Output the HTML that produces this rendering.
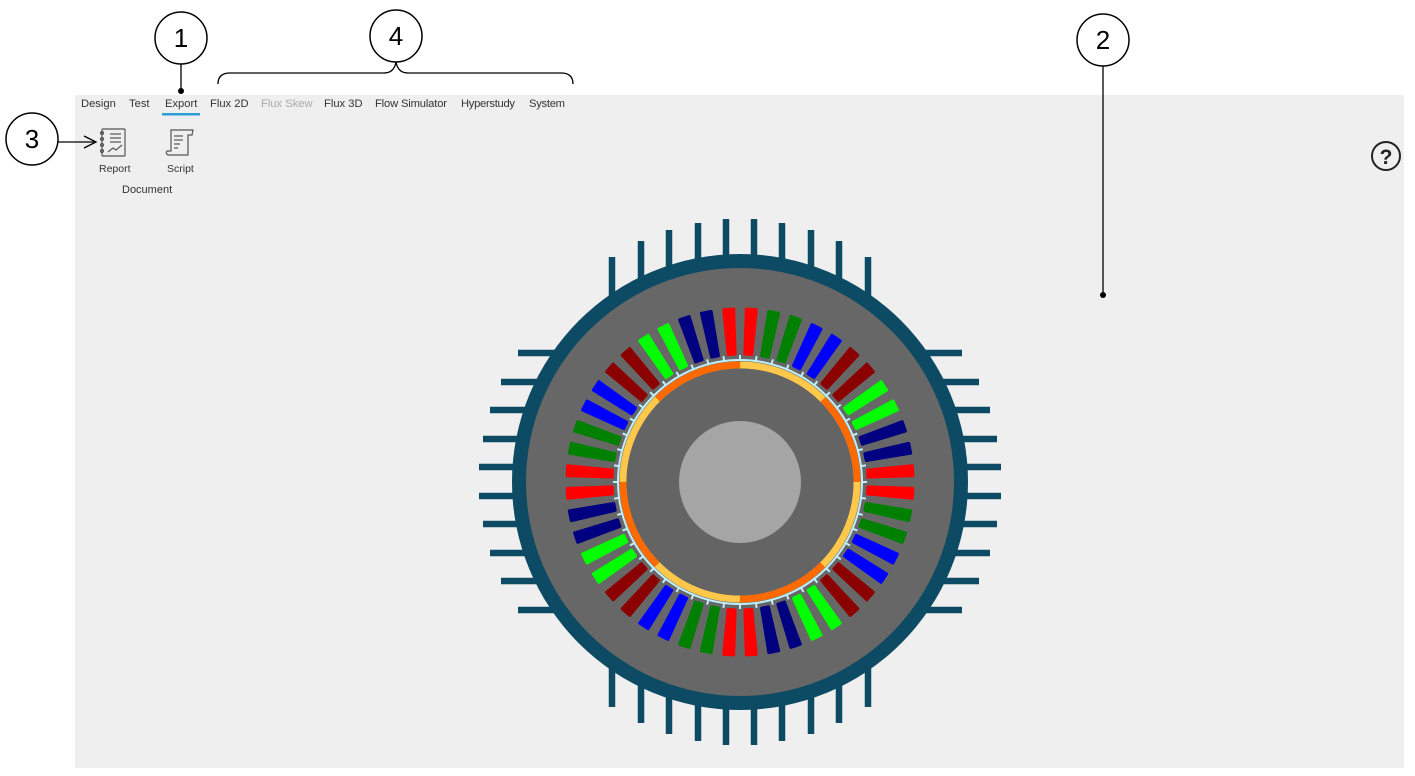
<!DOCTYPE html>
<html><head><meta charset="utf-8"><style>
html,body{margin:0;padding:0;background:#fff;width:1415px;height:776px;overflow:hidden}
svg{display:block;font-family:"Liberation Sans",sans-serif}
</style></head><body>
<svg width="1415" height="776" viewBox="0 0 1415 776" xmlns="http://www.w3.org/2000/svg">
<defs>
<path id="s" d="M735,309 L745,309 L743.5,354 L736.5,354 Z" stroke-width="3" stroke-linejoin="round"/>
<rect id="t" x="739" y="355" width="2" height="6" fill="#bfefff"/>
</defs>
<rect x="75" y="95" width="1329" height="673" fill="#efefef"/>
<g font-size="11.2" fill="#333">
<text x="81" y="107">Design</text>
<text x="129" y="107">Test</text>
<text x="165" y="107">Export</text>
<text x="210" y="107">Flux 2D</text>
<text x="261" y="107" fill="#aaa">Flux Skew</text>
<text x="324" y="107">Flux 3D</text>
<text x="375" y="107" textLength="72">Flow Simulator</text>
<text x="461" y="107" textLength="54">Hyperstudy</text>
<text x="529" y="107" textLength="36">System</text>
</g>
<rect x="162" y="113" width="38" height="2.5" fill="#2a9fd6"/>
<g fill="none" stroke="#555" stroke-width="1.2">
<rect x="102" y="129" width="23" height="27" rx="1"/>
<line x1="110" y1="134" x2="121" y2="134"/><line x1="110" y1="138" x2="121" y2="138"/><line x1="110" y1="142" x2="121" y2="142"/>
<polyline points="108,152 113,148 116,150 122,145"/>
<circle cx="102" cy="133" r="1.5"/><circle cx="102" cy="139" r="1.5"/><circle cx="102" cy="145" r="1.5"/><circle cx="102" cy="151" r="1.5"/>
<path d="M171,130 L193,130 L192,135 L188,135 L188,155 L168,155 Q165,153 167,151 L171,151 Z"/>
<line x1="174" y1="136" x2="183" y2="136"/><line x1="174" y1="140" x2="183" y2="140"/><line x1="174" y1="144" x2="180" y2="144"/><line x1="174" y1="148" x2="178" y2="148"/>
</g>
<g font-size="10.5" fill="#333">
<text x="99" y="172">Report</text>
<text x="167" y="172">Script</text>
<text x="122" y="193" font-size="11">Document</text>
</g>
<circle cx="1386" cy="156" r="14" fill="none" stroke="#222" stroke-width="2"/>
<text x="1386" y="164" text-anchor="middle" font-size="21" font-weight="bold" fill="#222">?</text>
<g stroke="#0d4a63" stroke-width="6.5">
<line x1="612" y1="482" x2="612" y2="257"/><line x1="641" y1="482" x2="641" y2="241"/><line x1="669" y1="482" x2="669" y2="230"/><line x1="698" y1="482" x2="698" y2="223"/><line x1="726" y1="482" x2="726" y2="219"/>
<line x1="754" y1="482" x2="754" y2="219"/><line x1="782" y1="482" x2="782" y2="223"/><line x1="811" y1="482" x2="811" y2="230"/><line x1="839" y1="482" x2="839" y2="241"/><line x1="868" y1="482" x2="868" y2="257"/>
<line x1="612" y1="482" x2="612" y2="707"/><line x1="641" y1="482" x2="641" y2="723"/><line x1="669" y1="482" x2="669" y2="734"/><line x1="698" y1="482" x2="698" y2="741"/><line x1="726" y1="482" x2="726" y2="745"/>
<line x1="754" y1="482" x2="754" y2="745"/><line x1="782" y1="482" x2="782" y2="741"/><line x1="811" y1="482" x2="811" y2="734"/><line x1="839" y1="482" x2="839" y2="723"/><line x1="868" y1="482" x2="868" y2="707"/>
<line x1="740" y1="353" x2="518" y2="353"/><line x1="740" y1="382" x2="501" y2="382"/><line x1="740" y1="410" x2="490" y2="410"/><line x1="740" y1="439" x2="483" y2="439"/><line x1="740" y1="467" x2="479" y2="467"/>
<line x1="740" y1="496" x2="479" y2="496"/><line x1="740" y1="524" x2="483" y2="524"/><line x1="740" y1="553" x2="490" y2="553"/><line x1="740" y1="581" x2="501" y2="581"/><line x1="740" y1="610" x2="518" y2="610"/>
<line x1="740" y1="353" x2="962" y2="353"/><line x1="740" y1="382" x2="979" y2="382"/><line x1="740" y1="410" x2="990" y2="410"/><line x1="740" y1="439" x2="997" y2="439"/><line x1="740" y1="467" x2="1001" y2="467"/>
<line x1="740" y1="496" x2="1001" y2="496"/><line x1="740" y1="524" x2="997" y2="524"/><line x1="740" y1="553" x2="990" y2="553"/><line x1="740" y1="581" x2="979" y2="581"/><line x1="740" y1="610" x2="962" y2="610"/>
</g>
<circle cx="740" cy="482" r="228" fill="#0d4a63"/>
<circle cx="740" cy="482" r="214" fill="#676767"/>
<g>
<use href="#s" fill="#ff0000" stroke="#ff0000" transform="rotate(-3.75 740 482)"/>
<use href="#s" fill="#ff0000" stroke="#ff0000" transform="rotate(3.75 740 482)"/>
<use href="#s" fill="#008000" stroke="#008000" transform="rotate(11.25 740 482)"/>
<use href="#s" fill="#008000" stroke="#008000" transform="rotate(18.75 740 482)"/>
<use href="#s" fill="#0000ff" stroke="#0000ff" transform="rotate(26.25 740 482)"/>
<use href="#s" fill="#0000ff" stroke="#0000ff" transform="rotate(33.75 740 482)"/>
<use href="#s" fill="#8b0000" stroke="#8b0000" transform="rotate(41.25 740 482)"/>
<use href="#s" fill="#8b0000" stroke="#8b0000" transform="rotate(48.75 740 482)"/>
<use href="#s" fill="#00ff00" stroke="#00ff00" transform="rotate(56.25 740 482)"/>
<use href="#s" fill="#00ff00" stroke="#00ff00" transform="rotate(63.75 740 482)"/>
<use href="#s" fill="#000080" stroke="#000080" transform="rotate(71.25 740 482)"/>
<use href="#s" fill="#000080" stroke="#000080" transform="rotate(78.75 740 482)"/>
<use href="#s" fill="#ff0000" stroke="#ff0000" transform="rotate(86.25 740 482)"/>
<use href="#s" fill="#ff0000" stroke="#ff0000" transform="rotate(93.75 740 482)"/>
<use href="#s" fill="#008000" stroke="#008000" transform="rotate(101.25 740 482)"/>
<use href="#s" fill="#008000" stroke="#008000" transform="rotate(108.75 740 482)"/>
<use href="#s" fill="#0000ff" stroke="#0000ff" transform="rotate(116.25 740 482)"/>
<use href="#s" fill="#0000ff" stroke="#0000ff" transform="rotate(123.75 740 482)"/>
<use href="#s" fill="#8b0000" stroke="#8b0000" transform="rotate(131.25 740 482)"/>
<use href="#s" fill="#8b0000" stroke="#8b0000" transform="rotate(138.75 740 482)"/>
<use href="#s" fill="#00ff00" stroke="#00ff00" transform="rotate(146.25 740 482)"/>
<use href="#s" fill="#00ff00" stroke="#00ff00" transform="rotate(153.75 740 482)"/>
<use href="#s" fill="#000080" stroke="#000080" transform="rotate(161.25 740 482)"/>
<use href="#s" fill="#000080" stroke="#000080" transform="rotate(168.75 740 482)"/>
<use href="#s" fill="#ff0000" stroke="#ff0000" transform="rotate(176.25 740 482)"/>
<use href="#s" fill="#ff0000" stroke="#ff0000" transform="rotate(183.75 740 482)"/>
<use href="#s" fill="#008000" stroke="#008000" transform="rotate(191.25 740 482)"/>
<use href="#s" fill="#008000" stroke="#008000" transform="rotate(198.75 740 482)"/>
<use href="#s" fill="#0000ff" stroke="#0000ff" transform="rotate(206.25 740 482)"/>
<use href="#s" fill="#0000ff" stroke="#0000ff" transform="rotate(213.75 740 482)"/>
<use href="#s" fill="#8b0000" stroke="#8b0000" transform="rotate(221.25 740 482)"/>
<use href="#s" fill="#8b0000" stroke="#8b0000" transform="rotate(228.75 740 482)"/>
<use href="#s" fill="#00ff00" stroke="#00ff00" transform="rotate(236.25 740 482)"/>
<use href="#s" fill="#00ff00" stroke="#00ff00" transform="rotate(243.75 740 482)"/>
<use href="#s" fill="#000080" stroke="#000080" transform="rotate(251.25 740 482)"/>
<use href="#s" fill="#000080" stroke="#000080" transform="rotate(258.75 740 482)"/>
<use href="#s" fill="#ff0000" stroke="#ff0000" transform="rotate(266.25 740 482)"/>
<use href="#s" fill="#ff0000" stroke="#ff0000" transform="rotate(273.75 740 482)"/>
<use href="#s" fill="#008000" stroke="#008000" transform="rotate(281.25 740 482)"/>
<use href="#s" fill="#008000" stroke="#008000" transform="rotate(288.75 740 482)"/>
<use href="#s" fill="#0000ff" stroke="#0000ff" transform="rotate(296.25 740 482)"/>
<use href="#s" fill="#0000ff" stroke="#0000ff" transform="rotate(303.75 740 482)"/>
<use href="#s" fill="#8b0000" stroke="#8b0000" transform="rotate(311.25 740 482)"/>
<use href="#s" fill="#8b0000" stroke="#8b0000" transform="rotate(318.75 740 482)"/>
<use href="#s" fill="#00ff00" stroke="#00ff00" transform="rotate(326.25 740 482)"/>
<use href="#s" fill="#00ff00" stroke="#00ff00" transform="rotate(333.75 740 482)"/>
<use href="#s" fill="#000080" stroke="#000080" transform="rotate(341.25 740 482)"/>
<use href="#s" fill="#000080" stroke="#000080" transform="rotate(348.75 740 482)"/>
</g>
<g>
<use href="#t" transform="rotate(0 740 482)"/><use href="#t" transform="rotate(7.5 740 482)"/><use href="#t" transform="rotate(15 740 482)"/><use href="#t" transform="rotate(22.5 740 482)"/><use href="#t" transform="rotate(30 740 482)"/><use href="#t" transform="rotate(37.5 740 482)"/><use href="#t" transform="rotate(45 740 482)"/><use href="#t" transform="rotate(52.5 740 482)"/><use href="#t" transform="rotate(60 740 482)"/><use href="#t" transform="rotate(67.5 740 482)"/><use href="#t" transform="rotate(75 740 482)"/><use href="#t" transform="rotate(82.5 740 482)"/>
<use href="#t" transform="rotate(90 740 482)"/><use href="#t" transform="rotate(97.5 740 482)"/><use href="#t" transform="rotate(105 740 482)"/><use href="#t" transform="rotate(112.5 740 482)"/><use href="#t" transform="rotate(120 740 482)"/><use href="#t" transform="rotate(127.5 740 482)"/><use href="#t" transform="rotate(135 740 482)"/><use href="#t" transform="rotate(142.5 740 482)"/><use href="#t" transform="rotate(150 740 482)"/><use href="#t" transform="rotate(157.5 740 482)"/><use href="#t" transform="rotate(165 740 482)"/><use href="#t" transform="rotate(172.5 740 482)"/>
<use href="#t" transform="rotate(180 740 482)"/><use href="#t" transform="rotate(187.5 740 482)"/><use href="#t" transform="rotate(195 740 482)"/><use href="#t" transform="rotate(202.5 740 482)"/><use href="#t" transform="rotate(210 740 482)"/><use href="#t" transform="rotate(217.5 740 482)"/><use href="#t" transform="rotate(225 740 482)"/><use href="#t" transform="rotate(232.5 740 482)"/><use href="#t" transform="rotate(240 740 482)"/><use href="#t" transform="rotate(247.5 740 482)"/><use href="#t" transform="rotate(255 740 482)"/><use href="#t" transform="rotate(262.5 740 482)"/>
<use href="#t" transform="rotate(270 740 482)"/><use href="#t" transform="rotate(277.5 740 482)"/><use href="#t" transform="rotate(285 740 482)"/><use href="#t" transform="rotate(292.5 740 482)"/><use href="#t" transform="rotate(300 740 482)"/><use href="#t" transform="rotate(307.5 740 482)"/><use href="#t" transform="rotate(315 740 482)"/><use href="#t" transform="rotate(322.5 740 482)"/><use href="#t" transform="rotate(330 740 482)"/><use href="#t" transform="rotate(337.5 740 482)"/><use href="#t" transform="rotate(345 740 482)"/><use href="#t" transform="rotate(352.5 740 482)"/>
</g>
<circle cx="740" cy="482" r="122" fill="none" stroke="#bfefff" stroke-width="2"/>
<circle cx="740" cy="482" r="117" fill="none" stroke="#ffc84a" stroke-width="7"/>
<circle cx="740" cy="482" r="117" fill="none" stroke="#ff6a00" stroke-width="7" stroke-dasharray="91.89 91.89" stroke-dashoffset="91.89"/>
<circle cx="740" cy="482" r="113.5" fill="#646464"/>
<circle cx="740" cy="482" r="61" fill="#a5a5a5"/>
<g fill="#fff" stroke="#000" stroke-width="1.5">
<circle cx="181" cy="38" r="26"/>
<circle cx="396" cy="36" r="26"/>
<circle cx="1103" cy="40" r="26"/>
<circle cx="32" cy="139" r="26"/>
</g>
<g font-size="26" text-anchor="middle" fill="#000">
<text x="181" y="47">1</text>
<text x="396" y="45">4</text>
<text x="1103" y="49">2</text>
<text x="32" y="148">3</text>
</g>
<g stroke="#000" stroke-width="1.3" fill="none">
<line x1="181" y1="64" x2="181" y2="91"/>
<line x1="1103" y1="66" x2="1103" y2="295"/>
<line x1="58" y1="142" x2="96" y2="142"/>
<polyline points="84,136 96,142 84,148"/>
<path d="M218,84 Q218,73 230,73 L384,73 Q394,73 396,62 Q398,73 408,73 L561,73 Q573,73 573,84"/>
</g>
<circle cx="181" cy="91" r="3" fill="#000"/>
<circle cx="1103" cy="295" r="3" fill="#000"/>
</svg>
</body></html>
